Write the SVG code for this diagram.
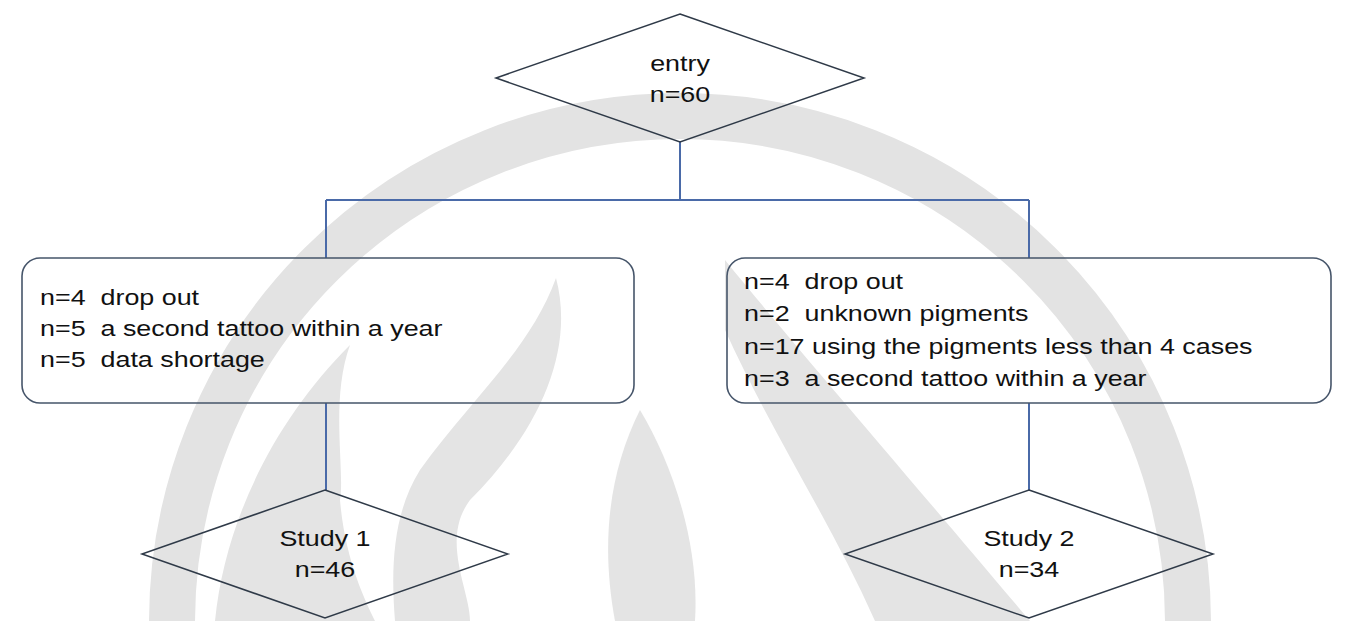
<svg xmlns="http://www.w3.org/2000/svg" width="1354" height="621" viewBox="0 0 1354 621">
  <style>
    .wm { fill: none; stroke: #e3e3e3; }
    .wmf { fill: #e4e4e4; stroke: none; }
    .dia { fill: none; stroke: #2f3a48; stroke-width: 1.5; stroke-linejoin: miter; }
    .box { fill: none; stroke: #46556a; stroke-width: 1.6; }
    .con { fill: none; stroke: #4a6aa8; stroke-width: 2; }
    .t { font-family: "Liberation Sans", Arial, sans-serif; font-size: 21.5px; fill: #111111; white-space: pre; }
    .c { text-anchor: middle; }
  </style>
  <rect x="0" y="0" width="1354" height="621" fill="#ffffff"/>
  <g id="watermark">
    <path class="wm" stroke-width="46" d="M172,640 L172,622 A508,506 0 0 1 1188,622 L1188,640"/>
    <path class="wmf" d="M350,345 C330,400 345,470 340,500 C345,560 365,600 375,621 L215,621 C225,520 275,420 350,345 Z"/>
    <path class="wmf" d="M556,278 C575,350 540,430 470,500 C440,540 470,590 470,621 L395,621 C390,560 395,510 420,470 C470,400 530,350 556,278 Z"/>
    <path class="wmf" d="M640,410 C670,460 700,540 695,621 L615,621 C600,540 610,470 640,410 Z"/>
    <path class="wmf" d="M725,260 C790,340 860,420 1030,621 L875,621 C830,520 770,430 725,330 Z"/>
  </g>
  <g id="connectors">
    <path class="con" d="M680,142 V200"/>
    <path class="con" d="M326,200 H1029"/>
    <path class="con" d="M326,200 V258"/>
    <path class="con" d="M1029,200 V258"/>
    <path class="con" d="M326,403 V490"/>
    <path class="con" d="M1029,403 V490"/>
  </g>
  <g id="entry">
    <polygon class="dia" points="680,14 864,78 680,142 496,78"/>
    <text class="t c" transform="translate(680 71) scale(1.25 1)"><tspan x="0" y="0">entry</tspan><tspan x="0" y="31">n=60</tspan></text>
  </g>
  <g id="excl1">
    <rect class="box" x="22" y="258" width="612" height="145" rx="18" ry="18"/>
    <text class="t" transform="translate(40 305) scale(1.25 1)"><tspan x="0" y="0">n=4  drop out</tspan><tspan x="0" y="31">n=5  a second tattoo within a year</tspan><tspan x="0" y="62">n=5  data shortage</tspan></text>
  </g>
  <g id="excl2">
    <rect class="box" x="727" y="258" width="604" height="145" rx="18" ry="18"/>
    <text class="t" transform="translate(744 289) scale(1.25 1)"><tspan x="0" y="0">n=4  drop out</tspan><tspan x="0" y="32.3">n=2  unknown pigments</tspan><tspan x="0" y="64.6">n=17 using the pigments less than 4 cases</tspan><tspan x="0" y="97">n=3  a second tattoo within a year</tspan></text>
  </g>
  <g id="study1">
    <polygon class="dia" points="325,490 508,554 325,618 142,554"/>
    <text class="t c" transform="translate(325 546) scale(1.25 1)"><tspan x="0" y="0">Study 1</tspan><tspan x="0" y="31">n=46</tspan></text>
  </g>
  <g id="study2">
    <polygon class="dia" points="1029,490 1213,554 1029,618 845,554"/>
    <text class="t c" transform="translate(1029 546) scale(1.25 1)"><tspan x="0" y="0">Study 2</tspan><tspan x="0" y="31">n=34</tspan></text>
  </g>
</svg>
